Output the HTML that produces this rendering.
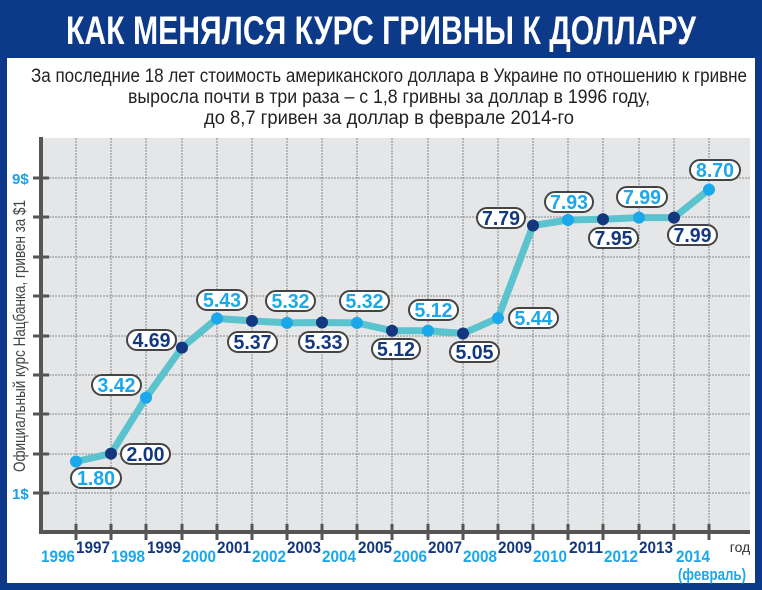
<!DOCTYPE html>
<html><head><meta charset="utf-8"><style>
html,body{margin:0;padding:0;background:#fff}
svg{display:block}
.t{font-family:"Liberation Sans Narrow","Liberation Sans",sans-serif}
</style></head><body>
<svg width="762" height="590" viewBox="0 0 762 590" xmlns="http://www.w3.org/2000/svg" class="t">
<rect x="0" y="0" width="762" height="590" fill="#0c3a88"/>
<rect x="7" y="58" width="748" height="525" fill="#fff"/>
<text x="381" y="44" text-anchor="middle" font-size="40" font-weight="bold" fill="#fff" textLength="630" lengthAdjust="spacingAndGlyphs">КАК МЕНЯЛСЯ КУРС ГРИВНЫ К ДОЛЛАРУ</text>
<g font-size="19" fill="#222" text-anchor="middle">
<text x="389" y="82" textLength="716" lengthAdjust="spacingAndGlyphs">За последние 18 лет стоимость американского доллара в Украине по отношению к гривне</text>
<text x="389" y="103" textLength="522" lengthAdjust="spacingAndGlyphs">выросла почти в три раза – с 1,8 гривны за доллар в 1996 году,</text>
<text x="389" y="124" textLength="370" lengthAdjust="spacingAndGlyphs">до 8,7 гривен за доллар в феврале 2014-го</text>
</g>
<rect x="43" y="138" width="707" height="394" fill="#e5e6e8"/>
<g stroke="#888" stroke-width="1" stroke-dasharray="2,1">
<line x1="43" y1="178" x2="750" y2="178"/><line x1="43" y1="217" x2="750" y2="217"/><line x1="43" y1="257" x2="750" y2="257"/><line x1="43" y1="296" x2="750" y2="296"/><line x1="43" y1="336" x2="750" y2="336"/><line x1="43" y1="375" x2="750" y2="375"/><line x1="43" y1="414" x2="750" y2="414"/><line x1="43" y1="454" x2="750" y2="454"/><line x1="43" y1="493" x2="750" y2="493"/>
<line x1="76" y1="138" x2="76" y2="532"/><line x1="111" y1="138" x2="111" y2="532"/><line x1="146" y1="138" x2="146" y2="532"/><line x1="182" y1="138" x2="182" y2="532"/><line x1="217" y1="138" x2="217" y2="532"/><line x1="252" y1="138" x2="252" y2="532"/><line x1="287" y1="138" x2="287" y2="532"/><line x1="322" y1="138" x2="322" y2="532"/><line x1="357" y1="138" x2="357" y2="532"/><line x1="392" y1="138" x2="392" y2="532"/><line x1="428" y1="138" x2="428" y2="532"/><line x1="463" y1="138" x2="463" y2="532"/><line x1="498" y1="138" x2="498" y2="532"/><line x1="533" y1="138" x2="533" y2="532"/><line x1="568" y1="138" x2="568" y2="532"/><line x1="603" y1="138" x2="603" y2="532"/><line x1="639" y1="138" x2="639" y2="532"/><line x1="674" y1="138" x2="674" y2="532"/><line x1="709" y1="138" x2="709" y2="532"/>
</g>
<g stroke="#555" stroke-width="4">
<line x1="41" y1="137" x2="41" y2="534"/><line x1="39" y1="532" x2="750" y2="532"/>
</g>
<g stroke="#555" stroke-width="3">
<line x1="33" y1="178" x2="49" y2="178"/><line x1="33" y1="217" x2="49" y2="217"/><line x1="33" y1="257" x2="49" y2="257"/><line x1="33" y1="296" x2="49" y2="296"/><line x1="33" y1="336" x2="49" y2="336"/><line x1="33" y1="375" x2="49" y2="375"/><line x1="33" y1="414" x2="49" y2="414"/><line x1="33" y1="454" x2="49" y2="454"/><line x1="33" y1="493" x2="49" y2="493"/>
</g>
<g stroke="#555" stroke-width="3">
<line x1="76" y1="524" x2="76" y2="540"/><line x1="111" y1="524" x2="111" y2="540"/><line x1="146" y1="524" x2="146" y2="540"/><line x1="182" y1="524" x2="182" y2="540"/><line x1="217" y1="524" x2="217" y2="540"/><line x1="252" y1="524" x2="252" y2="540"/><line x1="287" y1="524" x2="287" y2="540"/><line x1="322" y1="524" x2="322" y2="540"/><line x1="357" y1="524" x2="357" y2="540"/><line x1="392" y1="524" x2="392" y2="540"/><line x1="428" y1="524" x2="428" y2="540"/><line x1="463" y1="524" x2="463" y2="540"/><line x1="498" y1="524" x2="498" y2="540"/><line x1="533" y1="524" x2="533" y2="540"/><line x1="568" y1="524" x2="568" y2="540"/><line x1="603" y1="524" x2="603" y2="540"/><line x1="639" y1="524" x2="639" y2="540"/><line x1="674" y1="524" x2="674" y2="540"/><line x1="709" y1="524" x2="709" y2="540"/>
</g>
<g font-weight="bold" font-size="15" fill="#1aa0e8">
<text x="12" y="184">9$</text><text x="12" y="499">1$</text>
</g>
<text transform="translate(25,336) rotate(-90)" text-anchor="middle" font-size="17" fill="#444" textLength="272" lengthAdjust="spacingAndGlyphs">Официальный курс Нацбанка, гривен за $1</text>
<polyline fill="none" stroke="#5bc3cd" stroke-width="7" stroke-linejoin="round" points="76,461.5 111,453.6 146,397.7 182,347.6 217,318.5 252,320.9 287,322.9 322,322.5 357,322.9 392,330.7 428,330.7 463,333.5 498,318.1 533,225.5 568,220 603,219.2 639,217.6 674,217.6 709,189.6"/>
<g>
<circle cx="76" cy="461.5" r="6" fill="#1aa8ea"/><circle cx="111" cy="453.6" r="6" fill="#13387f"/><circle cx="146" cy="397.7" r="6" fill="#1aa8ea"/><circle cx="182" cy="347.6" r="6" fill="#13387f"/><circle cx="217" cy="318.5" r="6" fill="#1aa8ea"/><circle cx="252" cy="320.9" r="6" fill="#13387f"/><circle cx="287" cy="322.9" r="6" fill="#1aa8ea"/><circle cx="322" cy="322.5" r="6" fill="#13387f"/><circle cx="357" cy="322.9" r="6" fill="#1aa8ea"/><circle cx="392" cy="330.7" r="6" fill="#13387f"/><circle cx="428" cy="330.7" r="6" fill="#1aa8ea"/><circle cx="463" cy="333.5" r="6" fill="#13387f"/><circle cx="498" cy="318.1" r="6" fill="#1aa8ea"/><circle cx="533" cy="225.5" r="6" fill="#13387f"/><circle cx="568" cy="220" r="6" fill="#1aa8ea"/><circle cx="603" cy="219.2" r="6" fill="#13387f"/><circle cx="639" cy="217.6" r="6" fill="#1aa8ea"/><circle cx="674" cy="217.6" r="6" fill="#13387f"/><circle cx="709" cy="189.6" r="6" fill="#1aa8ea"/>
</g>
<g stroke="#444" stroke-width="2" fill="#fff">
<rect x="71" y="468" width="50" height="20" rx="10"/><rect x="121" y="444" width="49" height="20" rx="10"/><rect x="92" y="375" width="49" height="20" rx="10"/><rect x="127" y="330" width="49" height="20" rx="10"/><rect x="197" y="290" width="50" height="20" rx="10"/><rect x="228" y="332" width="49" height="20" rx="10"/><rect x="266" y="291" width="49" height="20" rx="10"/><rect x="299" y="332" width="49" height="20" rx="10"/><rect x="340" y="291" width="49" height="20" rx="10"/><rect x="372" y="339" width="48" height="20" rx="10"/><rect x="409" y="300" width="49" height="20" rx="10"/><rect x="450" y="342" width="49" height="20" rx="10"/><rect x="509" y="308" width="49" height="20" rx="10"/><rect x="477" y="208" width="48" height="20" rx="10"/><rect x="545" y="192" width="48" height="20" rx="10"/><rect x="589" y="228" width="49" height="20" rx="10"/><rect x="617" y="187" width="50" height="20" rx="10"/><rect x="668" y="225" width="49" height="20" rx="10"/><rect x="690" y="160" width="50" height="20" rx="10"/>
</g>
<g font-weight="bold" font-size="20" text-anchor="middle">
<g fill="#1aa8ea">
<text x="96" y="485" textLength="38" lengthAdjust="spacingAndGlyphs">1.80</text><text x="116.5" y="392" textLength="38" lengthAdjust="spacingAndGlyphs">3.42</text><text x="222" y="307" textLength="38" lengthAdjust="spacingAndGlyphs">5.43</text><text x="290.5" y="308" textLength="38" lengthAdjust="spacingAndGlyphs">5.32</text><text x="364.5" y="308" textLength="38" lengthAdjust="spacingAndGlyphs">5.32</text><text x="433.5" y="317" textLength="38" lengthAdjust="spacingAndGlyphs">5.12</text><text x="533.5" y="325" textLength="38" lengthAdjust="spacingAndGlyphs">5.44</text><text x="569" y="209" textLength="38" lengthAdjust="spacingAndGlyphs">7.93</text><text x="642" y="204" textLength="38" lengthAdjust="spacingAndGlyphs">7.99</text><text x="715" y="177" textLength="38" lengthAdjust="spacingAndGlyphs">8.70</text>
</g>
<g fill="#13387f">
<text x="145.5" y="461" textLength="38" lengthAdjust="spacingAndGlyphs">2.00</text><text x="151.5" y="347" textLength="38" lengthAdjust="spacingAndGlyphs">4.69</text><text x="252.5" y="349" textLength="38" lengthAdjust="spacingAndGlyphs">5.37</text><text x="323.5" y="349" textLength="38" lengthAdjust="spacingAndGlyphs">5.33</text><text x="396" y="356" textLength="38" lengthAdjust="spacingAndGlyphs">5.12</text><text x="474.5" y="359" textLength="38" lengthAdjust="spacingAndGlyphs">5.05</text><text x="501" y="225" textLength="38" lengthAdjust="spacingAndGlyphs">7.79</text><text x="613.5" y="245" textLength="38" lengthAdjust="spacingAndGlyphs">7.95</text><text x="692.5" y="242" textLength="38" lengthAdjust="spacingAndGlyphs">7.99</text>
</g>
</g>
<g font-weight="bold" font-size="17" text-anchor="middle">
<g fill="#1aa8ea">
<text x="58" y="562" textLength="34" lengthAdjust="spacingAndGlyphs">1996</text><text x="128" y="562" textLength="34" lengthAdjust="spacingAndGlyphs">1998</text><text x="199" y="562" textLength="34" lengthAdjust="spacingAndGlyphs">2000</text><text x="269" y="562" textLength="34" lengthAdjust="spacingAndGlyphs">2002</text><text x="339" y="562" textLength="34" lengthAdjust="spacingAndGlyphs">2004</text><text x="410" y="562" textLength="34" lengthAdjust="spacingAndGlyphs">2006</text><text x="480" y="562" textLength="34" lengthAdjust="spacingAndGlyphs">2008</text><text x="550" y="562" textLength="34" lengthAdjust="spacingAndGlyphs">2010</text><text x="621" y="562" textLength="34" lengthAdjust="spacingAndGlyphs">2012</text><text x="693" y="562" textLength="34" lengthAdjust="spacingAndGlyphs">2014</text><text x="712" y="580" textLength="68" lengthAdjust="spacingAndGlyphs">(февраль)</text>
</g>
<g fill="#13387f">
<text x="93" y="553" textLength="34" lengthAdjust="spacingAndGlyphs">1997</text><text x="164" y="553" textLength="34" lengthAdjust="spacingAndGlyphs">1999</text><text x="234" y="553" textLength="34" lengthAdjust="spacingAndGlyphs">2001</text><text x="304" y="553" textLength="34" lengthAdjust="spacingAndGlyphs">2003</text><text x="375" y="553" textLength="34" lengthAdjust="spacingAndGlyphs">2005</text><text x="445" y="553" textLength="34" lengthAdjust="spacingAndGlyphs">2007</text><text x="515" y="553" textLength="34" lengthAdjust="spacingAndGlyphs">2009</text><text x="586" y="553" textLength="34" lengthAdjust="spacingAndGlyphs">2011</text><text x="656" y="553" textLength="34" lengthAdjust="spacingAndGlyphs">2013</text>
</g>
</g>
<text x="740" y="552" text-anchor="middle" font-size="14" fill="#333">год</text>
</svg>
</body></html>
